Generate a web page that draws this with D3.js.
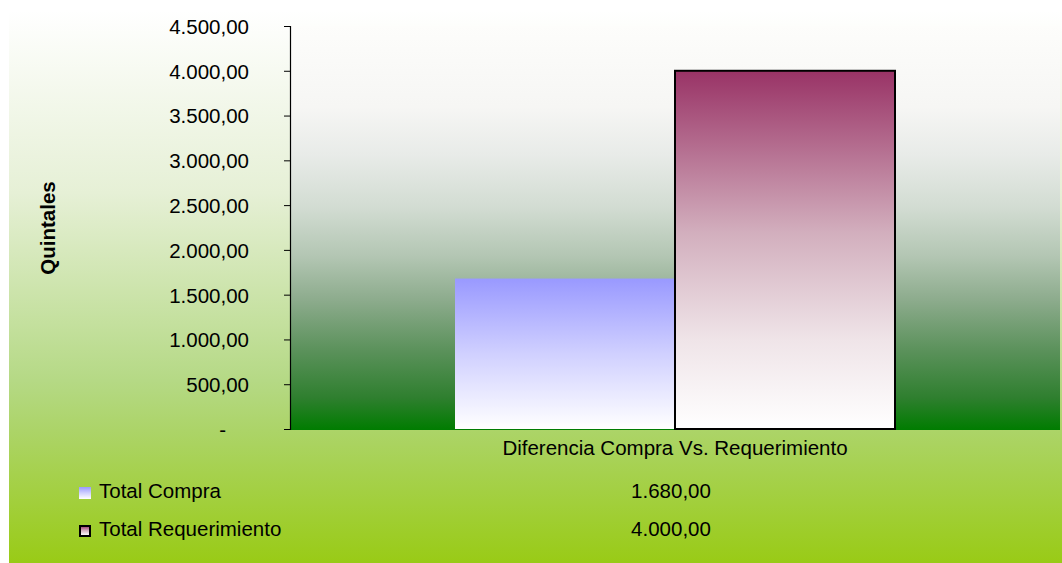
<!DOCTYPE html>
<html>
<head>
<meta charset="utf-8">
<script src="https://cdn.jsdelivr.net/npm/d3@7"></script>
<style>
  html, body { margin: 0; padding: 0; background: #ffffff; }
  svg { display: block; font-family: "Liberation Sans", Arial, sans-serif; }
</style>
</head>
<body>
<svg id="chart" width="1062" height="563"></svg>
<script>
// Chart data
const categories = ["Diferencia Compra Vs. Requerimiento"];
const seriesNames = ["Total Compra", "Total Requerimiento"];
const seriesValues = [1680, 4000];
const yTicks = [0, 500, 1000, 1500, 2000, 2500, 3000, 3500, 4000, 4500];
const yTitle = "Quintales";

// Spanish-style number format: 4.500,00
const esLocale = d3.formatLocale({ decimal: ",", thousands: ".", grouping: [3], currency: ["", ""] });
const fmt = esLocale.format(",.2f");
const fmtTick = v => v === 0 ? "-" : fmt(v);

const FS = 20.5;
const svg = d3.select("#chart");
const W = 1062, H = 563;
const plot = { left: 290, right: 1060, top: 26, bottom: 429 };

const defs = svg.append("defs");

// Outer chart background: white fading to yellow-green
const gOuter = defs.append("linearGradient").attr("id", "bgOuter")
  .attr("x1", 0).attr("y1", 0).attr("x2", 0).attr("y2", 1);
[[0, "#ffffff"], [0.33, "#e6f0d6"], [0.67, "#b5d985"], [0.76, "#acd468"], [1, "#99cb16"]]
  .forEach(([o, c]) => gOuter.append("stop").attr("offset", o).attr("stop-color", c));

// Plot area background: white to deep green
const gPlot = defs.append("linearGradient").attr("id", "bgPlot")
  .attr("x1", 0).attr("y1", 0).attr("x2", 0).attr("y2", 1);
[[0, "#fdfdfb"], [0.2, "#f6f6f4"], [0.32, "#e8ebe8"], [0.45, "#d2dcd2"], [0.57, "#b3c6b3"],
 [0.68, "#8cab8c"], [0.8, "#5c925c"], [0.92, "#2f7f2f"], [1, "#007c00"]]
  .forEach(([o, c]) => gPlot.append("stop").attr("offset", o).attr("stop-color", c));

// Bar fills: series colour fading to white at the base
const barStops = [
  [[0, "#9999ff"], [0.5, "#d0d0ff"], [1, "#ffffff"]],
  [[0, "#993366"], [0.45, "#d2aebd"], [0.75, "#efe4e8"], [1, "#ffffff"]]
];
barStops.forEach((stops, i) => {
  const g = defs.append("linearGradient").attr("id", "barFill" + i)
    .attr("x1", 0).attr("y1", 0).attr("x2", 0).attr("y2", 1);
  stops.forEach(([o, c]) => g.append("stop").attr("offset", o).attr("stop-color", c));
});

svg.append("rect").attr("x", 9).attr("y", 10).attr("width", W - 9).attr("height", H - 10)
  .attr("fill", "url(#bgOuter)");

svg.append("rect").attr("x", plot.left).attr("y", plot.top)
  .attr("width", plot.right - plot.left).attr("height", plot.bottom - plot.top + 1)
  .attr("fill", "url(#bgPlot)");

// Scales
const x0 = d3.scaleBand().domain(categories).range([plot.left, plot.right]).padding(0);
const x1 = d3.scaleBand().domain(seriesNames).range([0, x0.bandwidth()])
  .paddingInner(0).paddingOuter(0.75);
const y = d3.scaleLinear().domain([0, 4500]).range([plot.bottom, plot.top]);

// Bars
const bars = seriesNames.map((s, i) => ({ series: s, value: seriesValues[i], cat: categories[0], i }));
svg.append("g").selectAll("rect").data(bars).join("rect")
  .attr("x", d => x0(d.cat) + x1(d.series))
  .attr("y", d => y(d.value))
  .attr("width", x1.bandwidth())
  .attr("height", d => y(0) - y(d.value))
  .attr("fill", d => "url(#barFill" + d.i + ")")
  .attr("stroke", d => d.i === 1 ? "#000000" : "none")
  .attr("stroke-width", 2);

// Y axis
const yAxis = d3.axisLeft(y).tickValues(yTicks).tickSize(6).tickPadding(0).tickFormat(fmtTick);
const ga = svg.append("g").attr("transform", `translate(${plot.left},0)`).call(yAxis);
ga.select(".domain").attr("stroke", "#000").attr("stroke-width", 1.2);
ga.selectAll(".tick line").attr("stroke", "#000");
ga.selectAll(".tick text")
  .attr("x", d => d === 0 ? -64 : -41)
  .attr("dy", "0.36em")
  .attr("font-size", FS)
  .attr("font-family", "'Liberation Sans', Arial, sans-serif")
  .attr("fill", "#000");

// Y axis title
svg.append("text")
  .attr("transform", `translate(55,228) rotate(-90)`)
  .attr("text-anchor", "middle")
  .attr("font-size", FS).attr("font-weight", "bold")
  .text(yTitle);

// Category label
svg.append("text")
  .attr("x", x0(categories[0]) + x0.bandwidth() / 2)
  .attr("y", 455)
  .attr("text-anchor", "middle")
  .attr("font-size", FS)
  .text(categories[0]);

// Data table legend rows
const rowY = [498, 536];
const legend = svg.append("g");
seriesNames.forEach((s, i) => {
  legend.append("rect")
    .attr("x", i === 1 ? 80 : 79).attr("y", rowY[i] - (i === 1 ? 10 : 11))
    .attr("width", i === 1 ? 10 : 12).attr("height", i === 1 ? 10 : 12)
    .attr("fill", "url(#barFill" + i + ")")
    .attr("stroke", i === 1 ? "#000" : "none")
    .attr("stroke-width", 2);
  legend.append("text").attr("x", 99).attr("y", rowY[i])
    .attr("font-size", FS).text(s);
  legend.append("text")
    .attr("x", x0(categories[0]) + x0.bandwidth() / 2 - 4)
    .attr("y", rowY[i])
    .attr("text-anchor", "middle")
    .attr("font-size", FS)
    .text(fmt(seriesValues[i]));
});
</script>
</body>
</html>
